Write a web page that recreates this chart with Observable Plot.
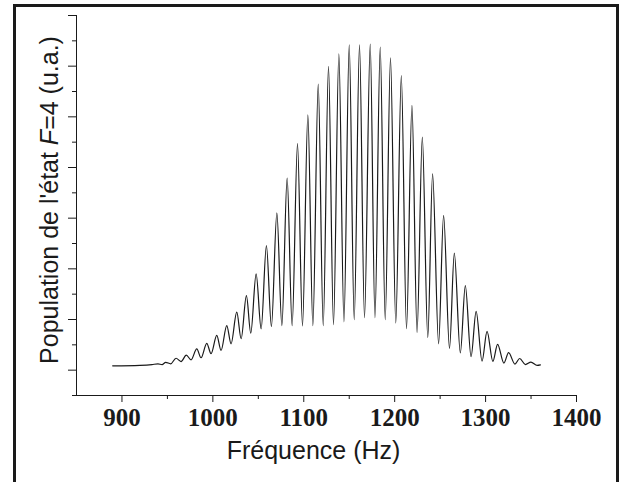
<!DOCTYPE html>
<html>
<head>
<meta charset="utf-8">
<script src="https://cdn.jsdelivr.net/npm/d3@7"></script>
<script src="https://cdn.jsdelivr.net/npm/@observablehq/plot@0.6"></script>
<style>
  html, body { margin: 0; padding: 0; background: white; }
  #wrap { position: relative; width: 619px; height: 482px; overflow: hidden; background: white; }
  #border { position: absolute; left: 13px; top: 4px; width: 606px; height: 520px; box-sizing: border-box; border: 3px solid #1a1a1a; pointer-events: none; }
  #chart { position: absolute; left: 0; top: 0; }
</style>
</head>
<body>
<div id="wrap"><div id="chart"></div><div id="border"></div></div>
<script>
// Fringe extrema (alternating peak / trough)
const frequency = [889.8, 919.8, 933.0, 939.6, 944.1, 948.1, 953.6, 959.5, 965.0, 970.8, 976.0, 982.3, 987.0, 993.3, 998.0,
  1004.3, 1009.0, 1015.3, 1020.0, 1026.3, 1031.1, 1036.9, 1041.7, 1047.6, 1053.1, 1058.9, 1064.4, 1070.4, 1075.9, 1081.7,
  1087.2, 1093.1, 1098.6, 1104.5, 1110.0, 1115.9, 1121.4, 1127.2, 1132.7, 1138.6, 1144.2, 1150.0, 1155.5, 1161.3, 1166.8,
  1173.1, 1178.3, 1184.1, 1189.6, 1195.4, 1201.2, 1207.3, 1213.0, 1219.0, 1224.6, 1230.4, 1236.4, 1241.7, 1248.3, 1253.8,
  1260.3, 1265.6, 1272.2, 1277.7, 1284.0, 1289.6, 1296.1, 1301.6, 1308.0, 1313.2, 1320.1, 1325.3, 1332.3, 1337.5, 1343.8,
  1349.9, 1356.7, 1360.3];
const population = [1.17, 1.19, 1.22, 1.25, 1.22, 1.31, 1.25, 1.47, 1.34, 1.59, 1.41, 1.84, 1.49, 2.06, 1.65,
  2.37, 1.78, 2.76, 2.04, 3.29, 2.24, 3.94, 2.46, 4.80, 2.63, 5.92, 2.72, 7.21, 2.76, 8.58,
  2.76, 9.94, 2.75, 11.08, 2.76, 12.29, 2.76, 12.99, 2.80, 13.49, 2.91, 13.84, 2.99, 13.84, 3.07,
  13.87, 3.07, 13.75, 2.99, 13.33, 2.86, 12.63, 2.64, 11.45, 2.49, 10.20, 2.29, 8.75, 2.04, 7.11,
  1.86, 5.62, 1.68, 4.34, 1.53, 3.32, 1.36, 2.53, 1.35, 2.02, 1.28, 1.69, 1.24, 1.46, 1.22,
  1.32, 1.19, 1.21];

const xMajor = [900, 1000, 1100, 1200, 1300, 1400];
const xMinor = [950, 1050, 1150, 1250, 1350];
const yMajor = [1, 3, 5, 7, 9, 11, 13, 15];
const yMinor = [0, 2, 4, 6, 8, 10, 12, 14];

const data = frequency.map((f, i) => ({f, p: population[i]}));

const plot = Plot.plot({
  width: 619,
  height: 482,
  marginLeft: 76,
  marginRight: 43,
  marginTop: 15,
  marginBottom: 87,
  style: {background: "white", color: "black", overflow: "visible"},
  x: {domain: [850, 1400]},
  y: {domain: [0, 15]},
  marks: [
    Plot.ruleY([0], {stroke: "#1a1a1a", strokeWidth: 1}),
    Plot.ruleX([850], {stroke: "#1a1a1a", strokeWidth: 1}),
    Plot.axisX({ticks: xMajor, tickSize: 7, tickPadding: 6, stroke: "#1a1a1a",
      fontFamily: "Liberation Serif, Times New Roman, serif", fontWeight: "bold", fontSize: 25,
      letterSpacing: "-1.3px", fill: "#1a1a1a", label: null, tickFormat: d => String(d)}),
    Plot.axisX({ticks: xMinor, tickSize: 4, text: null, label: null, stroke: "#1a1a1a"}),
    Plot.axisY({ticks: yMajor, tickSize: 8, text: null, label: null, stroke: "#1a1a1a"}),
    Plot.axisY({ticks: yMinor, tickSize: 4, text: null, label: null, stroke: "#1a1a1a"}),
    Plot.line(data, {x: "f", y: "p", curve: "monotone-x", stroke: "#1a1a1a", strokeWidth: 1.2}),
    Plot.text(["Fréquence (Hz)"], {frameAnchor: "bottom", dy: 63, dx: -13, fontSize: 25,
      fontFamily: "Liberation Sans, Arial, sans-serif", fill: "#1a1a1a"})
  ]
});
document.getElementById("chart").appendChild(plot);

// y-axis label with italic F, drawn as SVG text in the plot
const svg = d3.select(plot);
const yl = svg.append("text")
  .attr("transform", "translate(49,200) rotate(-90)")
  .attr("text-anchor", "middle")
  .attr("dominant-baseline", "central")
  .attr("font-family", "Liberation Sans, Arial, sans-serif")
  .attr("font-size", 25)
  .attr("fill", "#1a1a1a");
yl.append("tspan").text("Population de l'état ");
yl.append("tspan").attr("font-style", "italic").text("F");
yl.append("tspan").text("=4 (u.a.)");
</script>
</body>
</html>
